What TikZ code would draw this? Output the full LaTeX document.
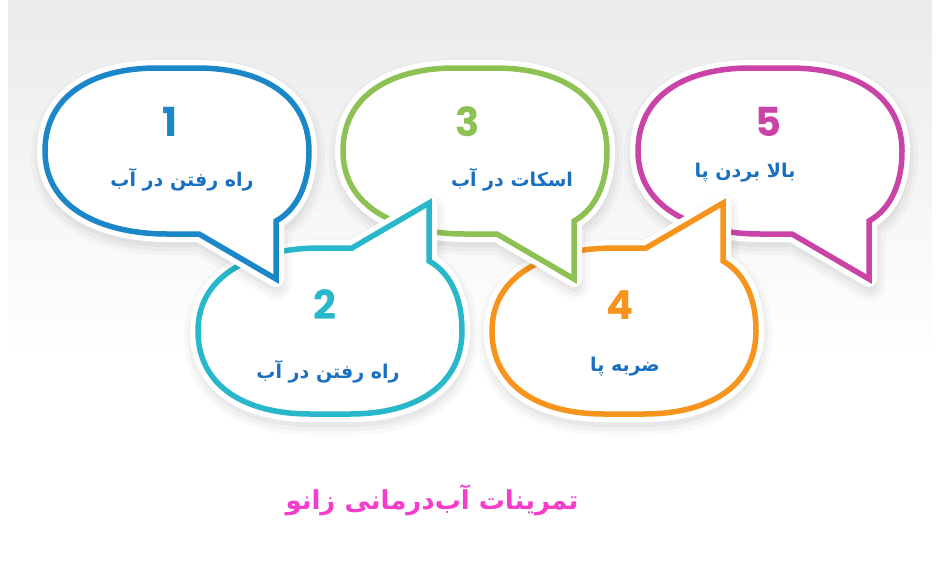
\documentclass[tikz,border=0pt]{standalone}
\usepackage{fontspec}
\newfontfamily\fa[Script=Arabic]{DejaVu Sans}
\newfontfamily\numfont{Poppins}
\TeXXeTstate=1
\definecolor{cblue}{HTML}{1B87C9}
\definecolor{ccyan}{HTML}{29B8CB}
\definecolor{cgreen}{HTML}{8DC153}
\definecolor{corange}{HTML}{F7941D}
\definecolor{cmag}{HTML}{C944A6}
\definecolor{txtblue}{HTML}{1A70C0}
\definecolor{ttlmag}{HTML}{F53DC9}
\newcommand\bblpath{(22,83) -- (-10,83) .. controls (-70,83) and (-132,60) .. (-132,0) .. controls (-132,-55) and (-85,-83) .. (-20,-83) -- (20,-83) .. controls (85,-83) and (132,-55) .. (132,0) .. controls (132,38) and (117,60) .. (99,70) -- (99,128) -- cycle}
\newcommand\drawbubble[4]{%
  \begin{scope}[shift={(#1,#2)}, yscale=#3]
    \foreach \w/\o in {30/0.025,22/0.03,14/0.035}
      \path[fill=black, draw=black, opacity=\o, line width=\w pt, line join=round, shift={(1,{6*#3})}] \bblpath;
    \path[fill=white, draw=white, line width=16pt, line join=round] \bblpath;
    \path[draw=#4, line width=5.5pt, line join=miter, miter limit=10] \bblpath;
  \end{scope}}
\tikzset{
  numtxt/.style={font=\numfont\bfseries\fontsize{40}{40}\selectfont},
  lbl/.style={text=txtblue, font=\fa\bfseries\fontsize{19}{22}\selectfont},
  ttl/.style={text=ttlmag, font=\fa\bfseries\fontsize{26}{30}\selectfont}
}
\begin{document}
\begin{tikzpicture}[x=1pt, y=-1pt]
  \useasboundingbox (0,0) rectangle (940,568);
  \fill[white] (0,0) rectangle (940,568);
  \fill[top color=black!8, bottom color=white] (8,0) rectangle (932,360);
  % bubbles, back to front
  \drawbubble{770}{151}{1}{cmag}
  \drawbubble{624}{331}{-1}{corange}
  \drawbubble{475}{151}{1}{cgreen}
  \drawbubble{330}{331}{-1}{ccyan}
  \drawbubble{177}{151}{1}{cblue}
  % numbers
  \node[numtxt, text=cblue] (n1) at (170,122) {1};
  \node[numtxt, text=ccyan] (n2) at (325,305) {2};
  \node[numtxt, text=cgreen] (n3) at (468,122) {3};
  \node[numtxt, text=corange] (n4) at (620,305) {4};
  \node[numtxt, text=cmag] (n5) at (768,122) {5};
  % labels
  \node[lbl] (t1) at (182,180) {\beginR راه رفتن در آب\endR};
  \node[lbl] (t2) at (328,372) {\beginR راه رفتن در آب\endR};
  \node[lbl] (t3) at (512,180) {\beginR اسکات در آب\endR};
  \node[lbl] (t4) at (625,367) {\beginR ضربه پا\endR};
  \node[lbl] (t5) at (745,173) {\beginR بالا بردن پا\endR};
  % title
  \node[ttl] (title) at (432,500) {\beginR تمرینات آب^^^^200cدرمانی زانو\endR};
\end{tikzpicture}
\end{document}
